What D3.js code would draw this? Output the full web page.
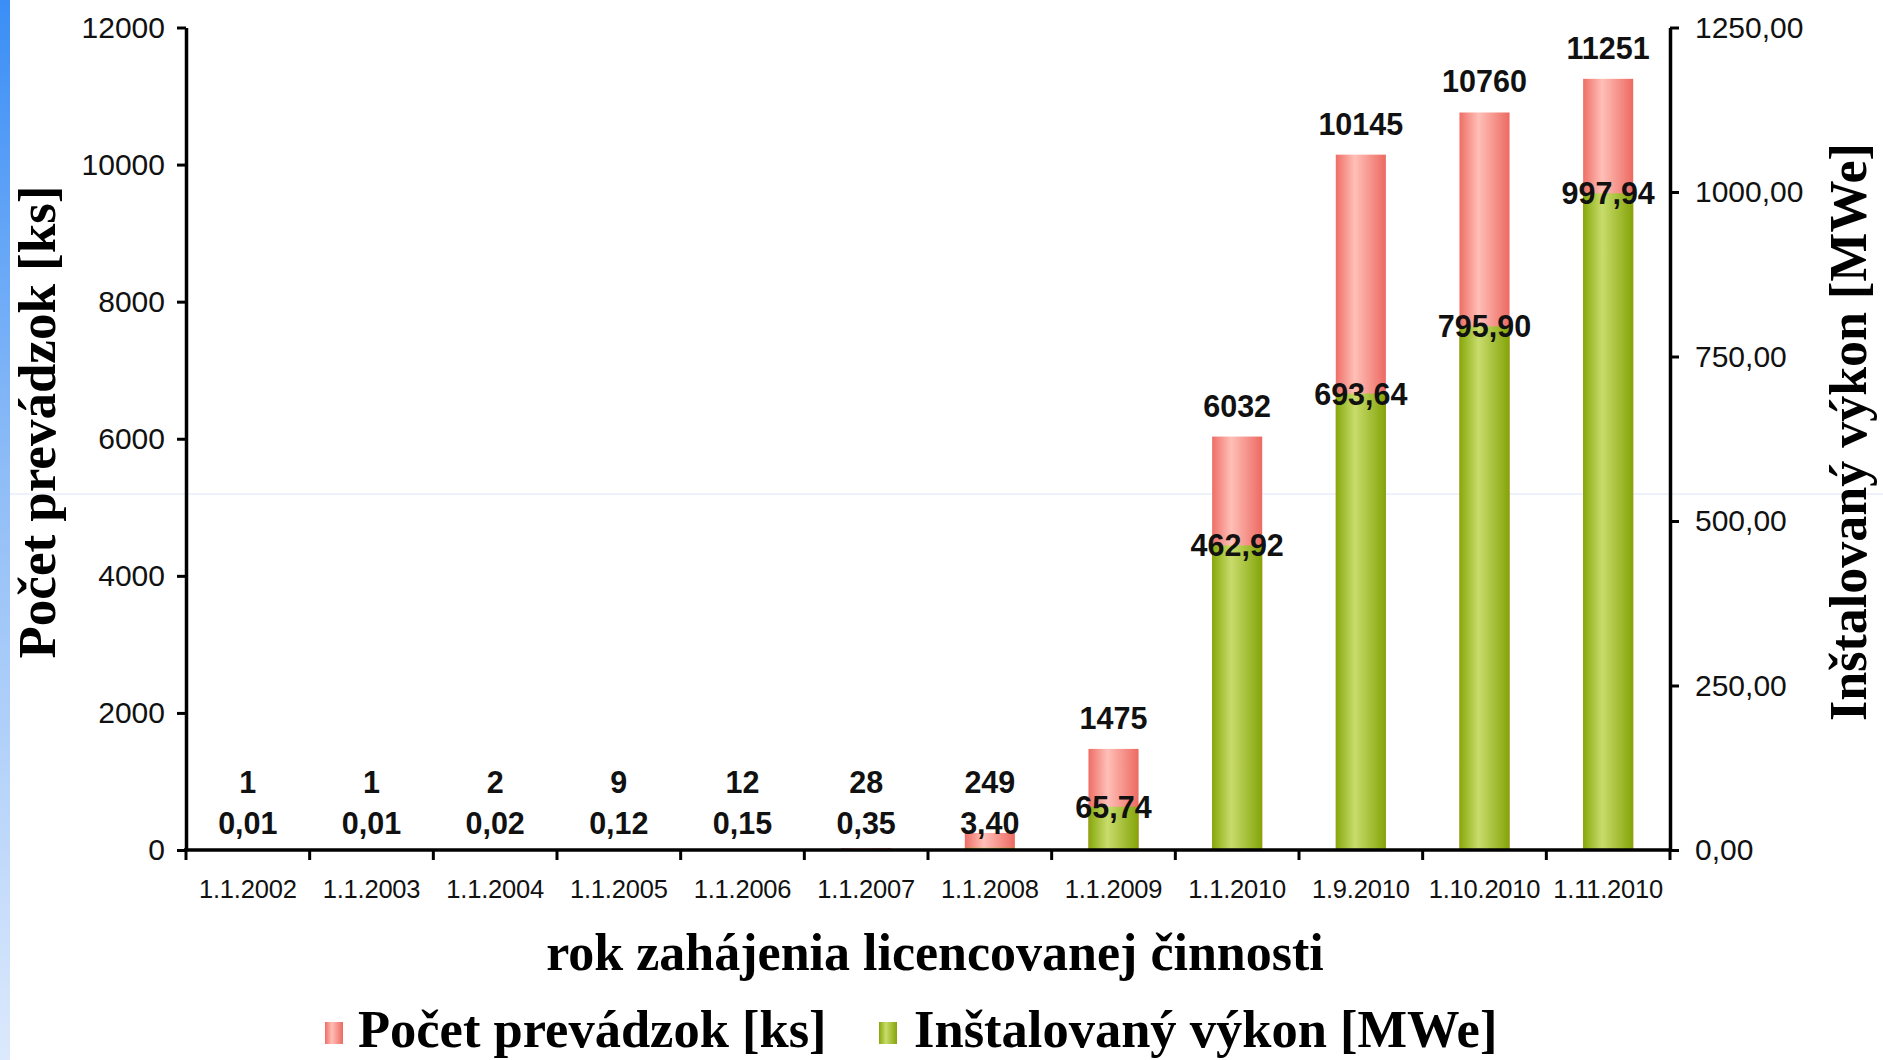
<!DOCTYPE html>
<html>
<head>
<meta charset="utf-8">
<script src="https://cdn.jsdelivr.net/npm/d3@7"></script>
<style>
  html, body { margin: 0; padding: 0; background: #ffffff; }
  svg { display: block; }
</style>
</head>
<body>
<script>
const categories = ["1.1.2002","1.1.2003","1.1.2004","1.1.2005","1.1.2006","1.1.2007","1.1.2008","1.1.2009","1.1.2010","1.9.2010","1.10.2010","1.11.2010"];
const countValues = [1, 1, 2, 9, 12, 28, 249, 1475, 6032, 10145, 10760, 11251];
const powerValues = [0.01, 0.01, 0.02, 0.12, 0.15, 0.35, 3.40, 65.74, 462.92, 693.64, 795.90, 997.94];
const leftTicks = [0, 2000, 4000, 6000, 8000, 10000, 12000];
const rightTicks = [0, 250, 500, 750, 1000, 1250];
const seriesNames = ["Počet prevádzok [ks]", "Inštalovaný výkon [MWe]"];
const xTitle = "rok zahájenia licencovanej činnosti";

const W = 1883, H = 1060;
const M = { left: 186, right: 1670, top: 27.5, bottom: 850 };
const sans = "'Liberation Sans', Arial, Helvetica, sans-serif";
const serif = "'Liberation Serif', 'Times New Roman', Times, serif";

const svg = d3.select("body").append("svg").attr("width", W).attr("height", H);
const defs = svg.append("defs");

// left decorative strip
const sg = defs.append("linearGradient").attr("id", "strip").attr("x1", 0).attr("y1", 0).attr("x2", 0).attr("y2", 1);
sg.append("stop").attr("offset", "0%").attr("stop-color", "#3a8ef6");
sg.append("stop").attr("offset", "45%").attr("stop-color", "#8fbdf7");
sg.append("stop").attr("offset", "100%").attr("stop-color", "#dce9fc");
svg.append("rect").attr("x", 0).attr("y", 0).attr("width", 10).attr("height", H).attr("fill", "url(#strip)");

// faint horizontal line across
svg.append("line").attr("x1", 10).attr("x2", W).attr("y1", 494).attr("y2", 494)
  .attr("stroke", "#dbe5f6").attr("stroke-width", 1);

// gradients for bars
function barGrad(id, edgeL, light, edgeR) {
  const g = defs.append("linearGradient").attr("id", id).attr("x1", 0).attr("y1", 0).attr("x2", 1).attr("y2", 0);
  g.append("stop").attr("offset", "0%").attr("stop-color", edgeL);
  g.append("stop").attr("offset", "38%").attr("stop-color", light);
  g.append("stop").attr("offset", "100%").attr("stop-color", edgeR);
}
barGrad("pink", "#ee6e66", "#ffbfb7", "#ec6a62");
barGrad("green", "#86a80a", "#c8dc6c", "#84a408");

const x = d3.scaleBand().domain(categories).range([M.left, M.right]).padding(0);
const yL = d3.scaleLinear().domain([0, 12000]).range([M.bottom, M.top]);
const yR = d3.scaleLinear().domain([0, 1250]).range([M.bottom, M.top]);
const bw = x.bandwidth() * 0.405;

const data = categories.map((c, i) => ({ c, n: countValues[i], p: powerValues[i] }));

// pink bars (count, left axis)
svg.append("g").selectAll("rect").data(data).join("rect")
  .attr("x", d => x(d.c) + (x.bandwidth() - bw) / 2)
  .attr("width", bw)
  .attr("y", d => yL(d.n))
  .attr("height", d => yL(0) - yL(d.n))
  .attr("fill", "url(#pink)");

// green bars (power, right axis)
svg.append("g").selectAll("rect").data(data).join("rect")
  .attr("x", d => x(d.c) + (x.bandwidth() - bw) / 2)
  .attr("width", bw)
  .attr("y", d => yR(d.p))
  .attr("height", d => yR(0) - yR(d.p))
  .attr("fill", "url(#green)");

// axes
const axisL = d3.axisLeft(yL).tickValues(leftTicks).tickSize(9).tickSizeOuter(0).tickPadding(12).tickFormat(d3.format("d"));
const gL = svg.append("g").attr("transform", `translate(${M.left},0)`).call(axisL);
const axisR = d3.axisRight(yR).tickValues(rightTicks).tickSize(9).tickSizeOuter(0).tickPadding(16)
  .tickFormat(d => d3.format(".2f")(d).replace(".", ","));
const gR = svg.append("g").attr("transform", `translate(${M.right},0)`).call(axisR);
const axisB = d3.axisBottom(x).tickSize(0).tickPadding(30);
const gB = svg.append("g").attr("transform", `translate(0,${M.bottom})`).call(axisB);

[gL, gR, gB].forEach(g => {
  g.select(".domain").attr("stroke", "#000").attr("stroke-width", 3.5);
  g.selectAll(".tick line").attr("stroke", "#000").attr("stroke-width", 3);
  g.selectAll(".tick text").attr("fill", "#111").style("font-family", sans);
});
gL.selectAll(".tick text").style("font-size", "30px");
gR.selectAll(".tick text").style("font-size", "30px");
gB.selectAll(".tick text").style("font-size", "25.5px").attr("letter-spacing", "-0.2px");
gB.select(".domain").attr("d", `M${M.left - 2},0H${M.right + 2}`);

// boundary ticks on x axis
const bounds = categories.map(c => x(c)).concat([x(categories[categories.length - 1]) + x.bandwidth()]);
svg.append("g").selectAll("line").data(bounds).join("line")
  .attr("x1", d => d).attr("x2", d => d)
  .attr("y1", M.bottom).attr("y2", M.bottom + 10)
  .attr("stroke", "#000").attr("stroke-width", 3);

// data labels
const greenLabelY = d => Math.min(yR(d.p), yR(0) - 27);
const pinkLabelY = d => Math.min(yL(d.n) - 31, greenLabelY(d) - 41);
const labels = svg.append("g").style("font-family", sans).style("font-weight", "bold").style("font-size", "30.5px").attr("fill", "#111");
labels.selectAll("text.n").data(data).join("text").attr("class", "n")
  .attr("x", d => x(d.c) + x.bandwidth() / 2)
  .attr("y", d => pinkLabelY(d))
  .attr("dy", "0.36em")
  .attr("text-anchor", "middle")
  .text(d => d.n);
labels.selectAll("text.p").data(data).join("text").attr("class", "p")
  .attr("x", d => x(d.c) + x.bandwidth() / 2)
  .attr("y", d => greenLabelY(d))
  .attr("dy", "0.36em")
  .attr("text-anchor", "middle")
  .text(d => d3.format(".2f")(d.p).replace(".", ","));

// axis titles
svg.append("text")
  .attr("transform", `translate(55,422) rotate(-90)`)
  .attr("text-anchor", "middle")
  .style("font-family", serif).style("font-weight", "bold").style("font-size", "53px")
  .attr("fill", "#000")
  .text(seriesNames[0]);
svg.append("text")
  .attr("transform", `translate(1866,432) rotate(-90)`)
  .attr("text-anchor", "middle")
  .style("font-family", serif).style("font-weight", "bold").style("font-size", "52px")
  .attr("fill", "#000")
  .text(seriesNames[1]);
svg.append("text")
  .attr("x", 935).attr("y", 970)
  .attr("text-anchor", "middle")
  .style("font-family", serif).style("font-weight", "bold").style("font-size", "52px")
  .attr("fill", "#000")
  .text(xTitle);

// legend
const legend = svg.append("g");
const legItems = [
  { name: seriesNames[0], fill: "url(#pink)", mx: 325, tx: 358 },
  { name: seriesNames[1], fill: "url(#green)", mx: 879, tx: 914 }
];
legend.selectAll("rect").data(legItems).join("rect")
  .attr("x", d => d.mx).attr("y", 1022).attr("width", 18).attr("height", 22)
  .attr("fill", d => d.fill);
legend.selectAll("text").data(legItems).join("text")
  .attr("x", d => d.tx).attr("y", 1047)
  .style("font-family", serif).style("font-weight", "bold").style("font-size", "52.5px")
  .attr("fill", "#000")
  .text(d => d.name);
</script>
</body>
</html>
